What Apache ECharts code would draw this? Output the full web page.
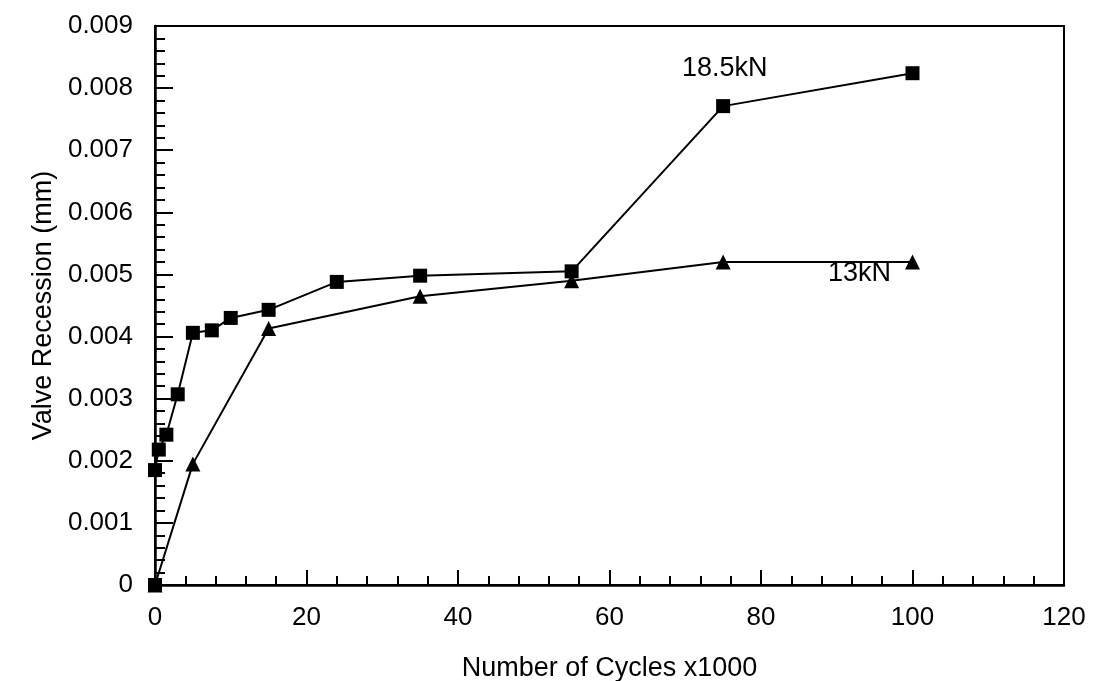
<!DOCTYPE html>
<html>
<head>
<meta charset="utf-8">
<script src="https://cdn.jsdelivr.net/npm/echarts@6/dist/echarts.min.js"></script>
<style>
  html, body { margin: 0; padding: 0; background: #fff; }
  #chart { width: 1093px; height: 681px; }
</style>
</head>
<body>
<div id="chart"></div>
<script>
// 18.5kN series (cycles x1000, recession mm)
let heavyX = [0, 0, 0.5, 1.5, 3, 5, 7.5, 10, 15, 24, 35, 55, 75, 100];
let heavyY = [0, 0.00185, 0.00218, 0.00242, 0.00307, 0.00406, 0.0041, 0.0043, 0.00443, 0.00488, 0.00498, 0.00505, 0.00771, 0.00824];
// 13kN series
let lightX = [0, 5, 15, 35, 55, 75, 100];
let lightY = [0, 0.00195, 0.00413, 0.00465, 0.0049, 0.0052, 0.0052];

function pairs(xs, ys){
  return xs.map(function(x, i){ return [x, ys[i]]; });
}

let font = 'Liberation Sans, Arial, sans-serif';
let chart = echarts.init(document.getElementById('chart'));

chart.setOption({
  animation: false,
  backgroundColor: '#fff',
  grid: {
    left: 155, right: 29, top: 26, bottom: 96,
    outerBoundsMode: 'none',
    containLabel: false,
    show: true, borderColor: '#000', borderWidth: 2
  },
  xAxis: {
    type: 'value',
    min: 0, max: 120, interval: 20,
    name: 'Number of Cycles x1000',
    nameLocation: 'middle',
    nameGap: 70,
    nameTextStyle: { fontFamily: font, fontSize: 27, color: '#000' },
    axisLine: { lineStyle: { color: '#000', width: 2.5 } },
    axisTick: { inside: true, length: 15, lineStyle: { color: '#000', width: 2 } },
    minorTick: { show: true, splitNumber: 5, length: 9, lineStyle: { color: '#000', width: 2 } },
    splitLine: { show: false },
    axisLabel: { fontFamily: font, fontSize: 26, color: '#000', margin: 20 }
  },
  yAxis: {
    type: 'value',
    min: 0, max: 0.009, interval: 0.001,
    name: 'Valve Recession (mm)',
    nameLocation: 'middle',
    nameGap: 92,
    nameTextStyle: { fontFamily: font, fontSize: 27, color: '#000' },
    axisLine: { lineStyle: { color: '#000', width: 2.5 } },
    axisTick: { inside: true, length: 18, lineStyle: { color: '#000', width: 2 } },
    minorTick: { show: true, splitNumber: 5, length: 10, lineStyle: { color: '#000', width: 2 } },
    splitLine: { show: false },
    axisLabel: {
      fontFamily: font, fontSize: 26, color: '#000', margin: 22,
      formatter: function(v){ return v === 0 ? '0' : v.toFixed(3); }
    }
  },
  series: [
    {
      name: '18.5kN',
      type: 'line',
      data: pairs(heavyX, heavyY),
      symbol: 'rect',
      symbolSize: 14,
      itemStyle: { color: '#000' },
      lineStyle: { color: '#000', width: 2 }
    },
    {
      name: '13kN',
      type: 'line',
      data: pairs(lightX, lightY),
      symbol: 'triangle',
      symbolSize: 15,
      itemStyle: { color: '#000' },
      lineStyle: { color: '#000', width: 2 }
    }
  ],
  graphic: [
    { type: 'text', left: 682, top: 55, style: { text: '18.5kN', font: '27px ' + font, fill: '#000' } },
    { type: 'text', left: 828, top: 260, style: { text: '13kN', font: '27px ' + font, fill: '#000' } }
  ]
});
</script>
</body>
</html>
